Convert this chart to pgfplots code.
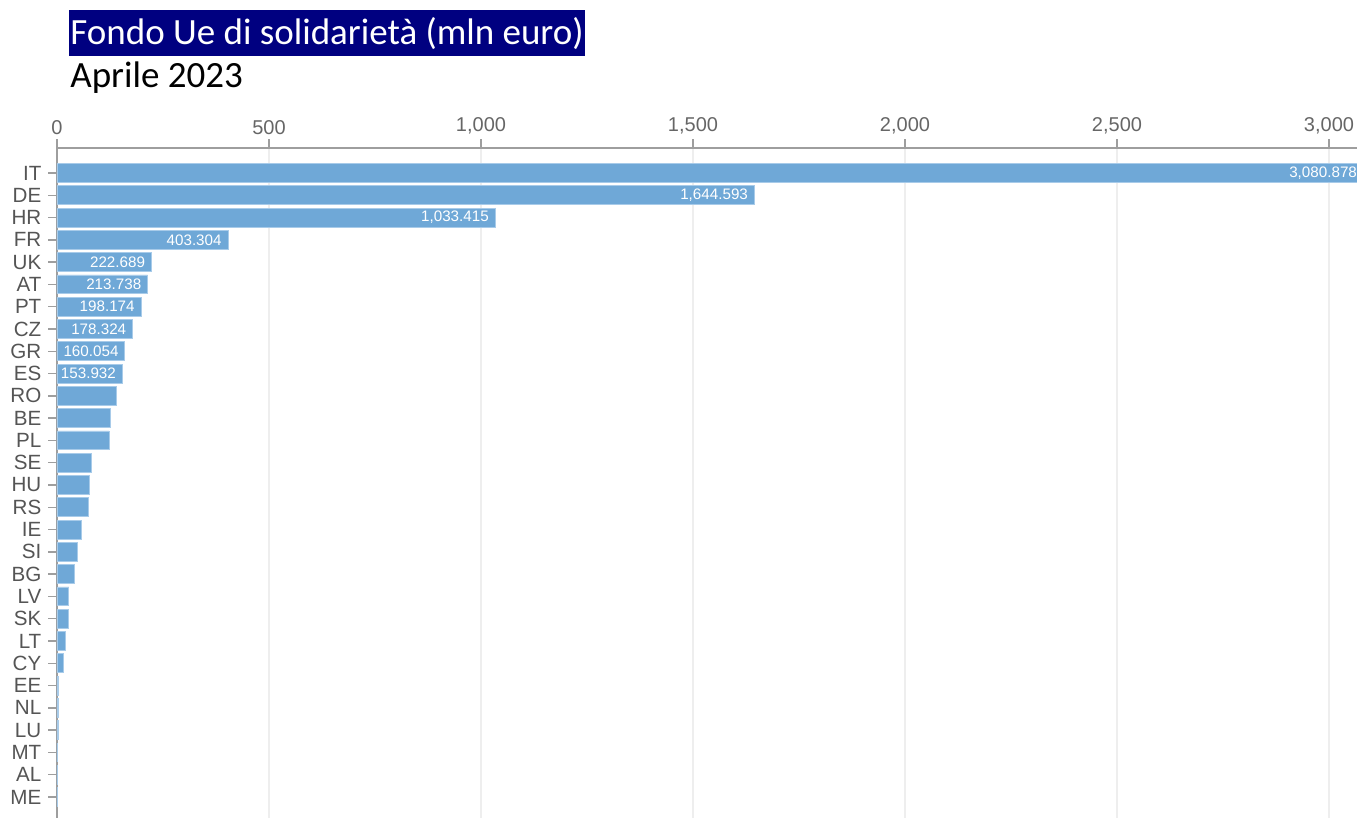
\documentclass[border=0pt]{standalone}
\usepackage{fontspec}
\setmainfont{Liberation Sans}
\newfontfamily\titlefont{Carlito}
\usepackage{pgfplots}
\pgfplotsset{compat=1.18}
\usepackage{pgfplotstable}
\definecolor{barblue}{HTML}{6FA8D7}
\definecolor{baredge}{HTML}{A8CBE9}
\definecolor{navy}{HTML}{000080}
\definecolor{axgray}{HTML}{9E9E9E}
\definecolor{tickgray}{HTML}{666666}
\definecolor{labgray}{HTML}{555555}
\definecolor{gridgray}{HTML}{EEEEEE}

\pgfplotstableread{
y v lab
28 3080.878 3,080.878
27 1644.593 1,644.593
26 1033.415 1,033.415
25 403.304 403.304
24 222.689 222.689
23 213.738 213.738
22 198.174 198.174
21 178.324 178.324
20 160.054 160.054
19 153.932 153.932
18 140 {}
17 126 {}
16 123 {}
15 81 {}
14 76 {}
13 73 {}
12 57 {}
11 48 {}
10 42 {}
9 28 {}
8 26 {}
7 20 {}
6 14 {}
5 3 {}
4 3 {}
3 3 {}
2 0.3 {}
1 0.2 {}
0 0.1 {}
}\datatable

\pgfplotstableread{
y v lab
28 3080.878 3,080.878
27 1644.593 1,644.593
26 1033.415 1,033.415
25 403.304 403.304
24 222.689 222.689
23 213.738 213.738
22 198.174 198.174
21 178.324 178.324
20 160.054 160.054
19 153.932 153.932
}\labeltable

\begin{document}
\begin{tikzpicture}
\begin{axis}[
  at={(0pt,0pt)}, anchor=south west,
  scale only axis,
  width=650pt, height=335pt,
  xmin=0, xmax=3066,
  ymin=-0.942, ymax=29.122,
  axis x line=top,
  axis y line=left,
  axis line style={-, axgray, line width=0.9pt},
  xtick={0,500,1000,1500,2000,2500,3000},
  xticklabel style={font=\fontsize{10}{12}\selectfont, text=tickgray, yshift=-1pt},
  /pgf/number format/assume math mode=true,
  /pgf/number format/1000 sep={,},
  ytick={0,...,28},
  yticklabels={ME,AL,MT,LU,NL,EE,CY,LT,SK,LV,BG,SI,IE,RS,HU,SE,PL,BE,RO,ES,GR,CZ,PT,AT,UK,FR,HR,DE,IT},
  yticklabel style={font=\fontsize{10.3}{12}\selectfont, text=labgray},
  tick align=outside,
  major tick length=4.3pt,
  tick style={axgray, line width=0.7pt},
  xmajorgrids,
  major grid style={gridgray, line width=0.6pt},
  clip mode=individual,
]
\addplot[xbar, bar width=0.85, bar shift=0pt, fill=barblue, draw=baredge, line width=0.4pt]
  table[x=v, y=y] {\datatable};
\addplot[only marks, mark=none, point meta=explicit symbolic, clip=false,
  nodes near coords,
  every node near coord/.append style={anchor=east, xshift=-3pt, inner sep=0pt, text=white, font=\fontsize{7.6}{9}\selectfont}]
  table[x=v, y=y, meta=lab] {\labeltable};
\end{axis}
\node[fill=navy, text=white, anchor=base west, inner xsep=0.5pt, inner ysep=0pt,
  text height=17.15pt, text depth=5.7pt, font=\titlefont\fontsize{18.5}{22}\selectfont]
  at (6pt,386.85pt) {Fondo Ue di solidarietà (mln euro)};
\node[text=black, anchor=base west, inner sep=0pt, font=\titlefont\fontsize{18.5}{22}\selectfont]
  at (6.5pt,365.15pt) {Aprile 2023};
\pgfresetboundingbox
\path[use as bounding box] (-28.5pt,0pt) rectangle (650pt,409pt);
\end{tikzpicture}
\end{document}
